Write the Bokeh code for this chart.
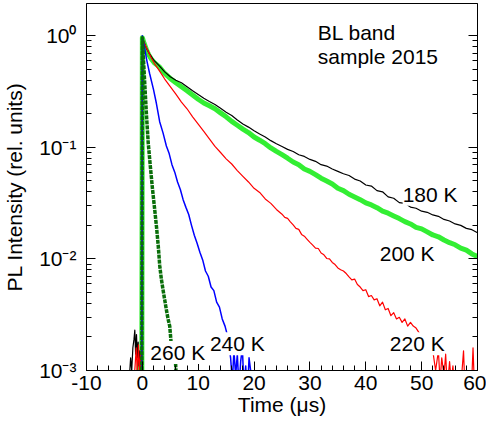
from bokeh.plotting import figure
from bokeh.models import Range1d, LogAxis, FixedTicker, Label
from bokeh.embed import file_html
from bokeh.resources import INLINE

# ---------------- data ----------------
x_ticks = [-10, 0, 10, 20, 30, 40, 50, 60]
x_labels = ["-10", "0", "10", "20", "30", "40", "50", "60"]
x_minor = [-8, -6, -4, -2, 2, 4, 6, 8, 12, 14, 16, 18, 22, 24, 26, 28, 32, 34, 36, 38,
           42, 44, 46, 48, 52, 54, 56, 58]
y_ticks = [0.001, 0.01, 0.1, 1.0]
y_labels = ["10\u207b\u00b3", "10\u207b\u00b2", "10\u207b\u00b9", "10\u2070"]

# 180 K (black)
t_180 = [-2.6, -2.3, -2.1, -1.9, -1.7, -1.5, -1.35, -1.2, -1.05, -0.9, -0.75, -0.6, -0.45, -0.3, -0.1,
         0.0, 0.3, 0.7, 1.2,
         2, 3, 4, 5, 6, 7, 8, 9, 10, 11, 12, 13, 14, 15, 16, 17, 18, 19, 20,
         21, 22, 23, 24, 25, 26, 27, 28, 29, 30, 31, 32, 33, 34, 35, 36, 37, 38, 39, 40,
         41, 42, 43, 44, 45, 46, 47, 48, 49, 50, 51, 52, 53, 54, 55, 56, 57, 58, 59, 60]
y_180 = [0.0006, 0.0009, 0.0013, 0.0010, 0.0016, 0.0019, 0.0023, 0.0014, 0.0021, 0.0013, 0.0018, 0.0011, 0.0015, 0.0008, 0.0007,
         0.97, 0.88, 0.78, 0.70,
         0.61, 0.54, 0.475, 0.43, 0.40, 0.38, 0.35, 0.322, 0.298, 0.276, 0.258, 0.242, 0.224, 0.207, 0.193, 0.176, 0.162, 0.152, 0.141,
         0.132, 0.124, 0.115, 0.108, 0.102, 0.096, 0.092, 0.086, 0.083, 0.078, 0.075, 0.070, 0.068, 0.064, 0.061, 0.058, 0.056, 0.052, 0.050, 0.046,
         0.045, 0.041, 0.040, 0.036, 0.035, 0.032, 0.0315, 0.0292, 0.0285, 0.0268, 0.0262, 0.0248, 0.0241, 0.0226, 0.0219, 0.0206, 0.0200, 0.0188, 0.0183, 0.0172]

# 200 K (light green)
t_200 = [-1.0, -0.7, -0.5, -0.3, -0.1,
         0.0, 0.3, 0.7, 1.1, 1.6, 2.2,
         3, 4, 5, 6, 7, 8, 9, 10, 11, 12, 13, 14, 15, 16, 17, 18, 19, 20,
         21, 22, 23, 24, 25, 26, 27, 28, 29, 30, 31, 32, 33, 34, 35, 36, 37, 38, 39, 40,
         41, 42, 43, 44, 45, 46, 47, 48, 49, 50, 51, 52, 53, 54, 55, 56, 57, 58, 59, 60]
y_200 = [0.0006, 0.0009, 0.0012, 0.0008, 0.0007,
         0.96, 0.86, 0.76, 0.68, 0.62, 0.57,
         0.53, 0.46, 0.415, 0.38, 0.35, 0.322, 0.295, 0.27, 0.25, 0.236, 0.222, 0.204, 0.188, 0.171, 0.158, 0.146, 0.136, 0.124,
         0.116, 0.108, 0.099, 0.092, 0.086, 0.080, 0.074, 0.070, 0.064, 0.061, 0.057, 0.053, 0.050, 0.047, 0.043, 0.041, 0.038, 0.036, 0.034, 0.0318,
         0.0305, 0.0288, 0.0268, 0.0257, 0.0243, 0.0230, 0.0216, 0.0206, 0.0192, 0.0186, 0.0175, 0.0164, 0.0158, 0.0148, 0.0140, 0.0134, 0.0125, 0.0120, 0.0111, 0.0105]

# 220 K (red)
t_220 = [-1.6, -1.3, -1.1, -0.9, -0.7, -0.5, -0.3, -0.1,
         0.0, 0.4, 0.8, 1.5, 2.2,
         3, 4, 5, 6, 7, 8, 9, 10, 11, 12, 13, 14, 15, 16, 17, 18, 19, 20, 21, 22, 23, 24, 25,
         25.5, 26, 26.5, 27, 27.5, 28, 28.5, 29, 29.5, 30,
         30.5, 31, 31.5, 32, 32.5, 33, 33.5, 34, 34.5, 35,
         35.5, 36, 36.5, 37, 37.5, 38, 38.5, 39, 39.5, 40,
         40.5, 41, 41.5, 42, 42.5, 43, 43.5, 44, 44.5, 45,
         45.5, 46, 46.5, 47, 47.5, 48, 48.5, 49, 49.5, 50,
         50.5, 51, 51.5, 52, 52.5,
         53, 53.3, 53.6, 54, 54.3, 54.6, 55, 55.3, 55.6, 56,
         56.5, 57, 57.5, 57.8, 58.3, 58.8, 59.2, 59.5, 60]
y_220 = [0.0007, 0.0011, 0.0016, 0.0009, 0.0017, 0.0010, 0.0014, 0.0007,
         0.96, 0.85, 0.77, 0.65, 0.56,
         0.49, 0.41, 0.35, 0.30, 0.255, 0.222, 0.188, 0.162, 0.139, 0.119, 0.102, 0.090, 0.079, 0.071, 0.062, 0.055, 0.049, 0.043, 0.0395, 0.0345, 0.0315, 0.0278, 0.0252,
         0.0236, 0.0231, 0.0215, 0.0202, 0.0188, 0.0184, 0.0166, 0.0160, 0.0150, 0.0141,
         0.0133, 0.0125, 0.0124, 0.0113, 0.0109, 0.0101, 0.0100, 0.0093, 0.0089, 0.0083,
         0.0080, 0.0078, 0.0074, 0.0069, 0.0065, 0.0066, 0.0059, 0.0056, 0.0052, 0.0053,
         0.0046, 0.0047, 0.0043, 0.0044, 0.0038, 0.0041, 0.0035, 0.0036, 0.0031, 0.0033,
         0.0029, 0.0030, 0.0027, 0.0029, 0.0025, 0.0027, 0.0025, 0.0024, 0.0022, 0.0020,
         0.0017, 0.0016, 0.0014, 0.0015, 0.0010,
         0.0015, 0.0008, 0.0013, 0.0009, 0.0014, 0.0007, 0.0012, 0.0008, 0.0011, 0.0006,
         0.0010, 0.0007, 0.0015, 0.0006, 0.0009, 0.0005, 0.0016, 0.0006, 0.0008]

# 240 K (blue)
t_240 = [-0.1, 0.0, 0.4, 0.8, 1.3, 2.0, 2.5, 3.1, 3.7, 4.3,
         4.8, 5.3, 5.8, 6.3, 6.8, 7.3, 7.8, 8.3, 8.8, 9.3, 9.8, 10.3, 10.8, 11.3, 11.8, 12.3, 12.8, 13.3, 13.8, 14.3, 14.8, 15.3, 15.8,
         16.1, 16.4, 16.7, 17.0, 17.3, 17.6, 17.9, 18.2, 18.5, 18.8, 19.1, 19.5, 19.8]
y_240 = [0.0006, 1.0, 0.78, 0.60, 0.46, 0.33, 0.25, 0.17, 0.135, 0.103,
         0.088, 0.070, 0.060, 0.049, 0.042, 0.034, 0.029, 0.025, 0.020, 0.0163, 0.0138, 0.0115, 0.0098, 0.0078, 0.0070, 0.0056, 0.0052, 0.0041, 0.0037, 0.0029, 0.0025, 0.0020, 0.0013,
         0.0008, 0.0015, 0.0009, 0.0014, 0.0007, 0.0012, 0.0016, 0.0007, 0.0011, 0.0006, 0.0013, 0.0009, 0.0005]

# 260 K (dark green)
t_260 = [-0.1, 0.0, 0.25, 0.5, 0.75, 1.05, 1.4, 1.8, 2.2, 2.55, 2.85, 3.1,
         3.4, 3.7, 4.0, 4.3, 4.6, 4.9, 5.1, 5.3, 5.5, 5.7, 5.9, 6.1]
y_260 = [0.0006, 0.96, 0.55, 0.32, 0.19, 0.11, 0.070, 0.043, 0.028, 0.019, 0.013, 0.0088,
         0.0066, 0.0053, 0.0043, 0.0035, 0.0029, 0.0025, 0.0019, 0.0013, 0.0014, 0.0012, 0.0013, 0.0008]

series = [
    (t_200, y_200, "#33ee33", 5.0, "solid"),
    (t_180, y_180, "#000000", 1.2, "solid"),
    (t_220, y_220, "#ff0000", 1.2, "solid"),
    (t_240, y_240, "#0000ff", 1.5, "solid"),
    (t_260, y_260, "#0a6e0a", 3.5, "4 1"),
]
for t, y, *_ in series:
    assert len(t) == len(y), (len(t), len(y))

FONT = "Liberation Sans"
FS = "21px"

p = figure(width=486, height=420, y_axis_type="log",
           x_range=Range1d(-10, 60), y_range=Range1d(1e-3, 1.95),
           output_backend="svg", toolbar_location=None,
           min_border_left=85, min_border_right=9, min_border_top=3, min_border_bottom=50)
p.background_fill_color = "white"
p.border_fill_color = "white"
p.grid.visible = False
p.outline_line_color = "black"
p.outline_line_alpha = 1.0
p.outline_line_width = 1

for t, y, col, lw, dash in series:
    p.line(t, y, line_color=col, line_width=lw, line_dash=dash, line_join="round")

y_minor = [m * 10.0 ** e for e in (-3, -2, -1, 0) for m in range(2, 10) if m * 10.0 ** e < 1.95]

xa = p.xaxis[0]
xa.ticker = FixedTicker(ticks=x_ticks, minor_ticks=x_minor)
xa.major_label_overrides = dict(zip(x_ticks, x_labels))
ya = p.yaxis[0]
ya.ticker = FixedTicker(ticks=y_ticks, minor_ticks=y_minor)
ya.major_label_overrides = dict(zip(y_ticks, y_labels))

for ax in (xa, ya):
    ax.axis_line_color = "black"
    ax.major_tick_line_color = "black"
    ax.minor_tick_line_color = "black"
    ax.major_tick_in = 9
    ax.major_tick_out = 0
    ax.minor_tick_in = 5
    ax.minor_tick_out = 0
    ax.major_label_text_font = FONT
    ax.major_label_text_font_size = FS
    ax.major_label_text_color = "black"
    ax.axis_label_text_font = FONT
    ax.axis_label_text_font_size = FS
    ax.axis_label_text_font_style = "normal"
    ax.axis_label_text_color = "black"

xa.axis_label = "Time (\u03bcs)"
xa.major_label_standoff = 5
xa.axis_label_standoff = 0
ya.axis_label = "PL Intensity (rel. units)"
ya.major_label_standoff = 10
ya.axis_label_standoff = 10

ra = LogAxis(ticker=FixedTicker(ticks=y_ticks, minor_ticks=y_minor),
             major_label_text_font_size="1px", major_label_text_alpha=0.0,
             major_label_standoff=0,
             major_tick_in=9, major_tick_out=0, minor_tick_in=5, minor_tick_out=0,
             axis_line_color="black")
p.add_layout(ra, "right")

for txt, x, y in [("BL band", 31.4, 1.07), ("sample 2015", 31.4, 0.653)]:
    p.add_layout(Label(x=x, y=y, text=txt, text_font=FONT, text_font_size=FS,
                       text_color="black", text_baseline="alphabetic"))

for txt, x, y in [("180 K", 46.6, 0.038), ("200 K", 42.5, 0.0111), ("220 K", 44.3, 0.00174),
                  ("240 K", 12.1, 0.00174), ("260 K", 1.43, 0.00145)]:
    p.add_layout(Label(x=x, y=y, text=txt, text_font=FONT, text_font_size=FS,
                       text_color="black", text_baseline="alphabetic",
                       background_fill_color="white"))

open("out.html", "w").write(file_html(p, INLINE))
